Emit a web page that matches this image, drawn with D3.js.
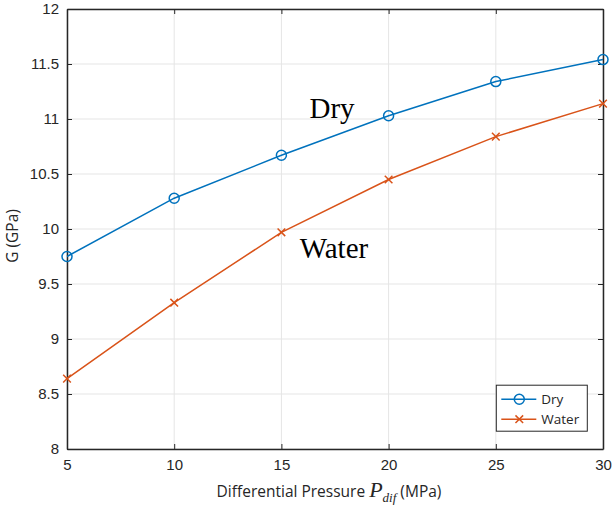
<!DOCTYPE html>
<html>
<head>
<meta charset="utf-8">
<script src="https://cdn.jsdelivr.net/npm/d3@7"></script>
<style>
  body { margin: 0; background: #fff; }
  svg { font-family: "Open Sans", "Noto Sans", sans-serif; }
</style>
</head>
<body>
<div id="chart"></div>
<script>
// G vs differential pressure, dry and water-saturated
var pressure = [5, 10, 15, 20, 25, 30],
	dryG = [9.75, 10.28, 10.67, 11.03, 11.34, 11.54],
	waterG = [8.64, 9.33, 9.97, 10.45, 10.84, 11.14],
	xTicks = [5, 10, 15, 20, 25, 30],
	yTicks = [8, 8.5, 9, 9.5, 10, 10.5, 11, 11.5, 12];

var width = 613, height = 506,
	margin = {top: 9, right: 10, bottom: 57, left: 67},
	w = width - margin.left - margin.right,
	h = height - margin.top - margin.bottom;

var svg = d3.select("#chart").append("svg")
	.attr("width", width)
	.attr("height", height);

var g = svg.append("g")
	.attr("transform", "translate(" + margin.left + "," + margin.top + ")");

var x = d3.scaleLinear().domain([5, 30]).range([0, w]),
	y = d3.scaleLinear().domain([8, 12]).range([h, 0]);

// grid
g.selectAll(".gx").data(xTicks).enter().append("line")
	.attr("x1", function(d) { return x(d); })
	.attr("x2", function(d) { return x(d); })
	.attr("y1", 0).attr("y2", h)
	.style("stroke", "#e5e5e5").style("stroke-width", 1);
g.selectAll(".gy").data(yTicks).enter().append("line")
	.attr("y1", function(d) { return y(d); })
	.attr("y2", function(d) { return y(d); })
	.attr("x1", 0).attr("x2", w)
	.style("stroke", "#e5e5e5").style("stroke-width", 1);

// axes, ticks pointing inward
g.append("g")
	.attr("transform", "translate(0," + h + ")")
	.call(d3.axisBottom(x).tickValues(xTicks).tickSizeInner(-5).tickSizeOuter(0).tickPadding(10));
g.append("g")
	.call(d3.axisLeft(y).tickValues(yTicks).tickSizeInner(-5).tickSizeOuter(0).tickPadding(8)
		.tickFormat(function(d) { return d3.format("~g")(d); }));
g.append("g")
	.call(d3.axisTop(x).tickValues(xTicks).tickSizeInner(-5).tickSizeOuter(0).tickFormat(""));
g.append("g")
	.attr("transform", "translate(" + w + ",0)")
	.call(d3.axisRight(y).tickValues(yTicks).tickSizeInner(-5).tickSizeOuter(0).tickFormat(""));

g.selectAll(".domain").style("stroke", "#262626").style("stroke-width", 1.5);
g.selectAll(".tick line").style("stroke", "#262626");
g.selectAll(".tick text").style("font-size", "15px").style("fill", "#262626");

// lines
var line = d3.line()
	.x(function(d, i) { return x(pressure[i]); })
	.y(function(d) { return y(d); });

g.append("path").datum(dryG)
	.attr("d", line)
	.style("fill", "none").style("stroke", "#0072BD").style("stroke-width", 1.5);
g.append("path").datum(waterG)
	.attr("d", line)
	.style("fill", "none").style("stroke", "#D95319").style("stroke-width", 1.5);

g.selectAll(".dry").data(dryG).enter().append("circle")
	.attr("cx", function(d, i) { return x(pressure[i]); })
	.attr("cy", function(d) { return y(d); })
	.attr("r", 5)
	.style("fill", "none").style("stroke", "#0072BD").style("stroke-width", 1.5);

var cross = d3.symbol().type(d3.symbolX).size(40);
g.selectAll(".water").data(waterG).enter().append("path")
	.attr("d", cross)
	.attr("transform", function(d, i) { return "translate(" + x(pressure[i]) + "," + y(d) + ")"; })
	.style("fill", "none").style("stroke", "#D95319").style("stroke-width", 1.5);

// annotations
g.append("text")
	.attr("x", x(17.36)).attr("y", y(11.01))
	.style("font-family", "'Liberation Serif', 'DejaVu Serif', serif")
	.style("font-size", "29px")
	.style("text-anchor", "middle")
	.text("Dry");
g.append("text")
	.attr("x", x(17.45)).attr("y", y(9.74))
	.style("font-family", "'Liberation Serif', 'DejaVu Serif', serif")
	.style("font-size", "29px")
	.style("text-anchor", "middle")
	.text("Water");

// axis titles
var xt = svg.append("text")
	.attr("x", margin.left + w / 2 - 6)
	.attr("y", 497)
	.style("text-anchor", "middle")
	.style("font-size", "15.5px")
	.style("fill", "#262626");
xt.append("tspan").text("Differential Pressure ");
xt.append("tspan")
	.style("font-family", "'Liberation Serif', serif")
	.style("font-style", "italic")
	.style("font-size", "22px")
	.text("P");
xt.append("tspan")
	.attr("dy", 5)
	.style("font-family", "'Liberation Serif', serif")
	.style("font-style", "italic")
	.style("font-size", "13px")
	.text("dif");
xt.append("tspan")
	.attr("dy", -5)
	.text(" (MPa)");

svg.append("text")
	.attr("transform", "translate(18," + (margin.top + h / 2 + 7) + ") rotate(-90)")
	.style("text-anchor", "middle")
	.style("font-size", "15.5px")
	.style("fill", "#262626")
	.text("G (GPa)");

// legend
var lg = g.append("g")
	.attr("transform", "translate(" + (x(25) + 0.5) + "," + (y(8.58)) + ")");
lg.append("rect")
	.attr("width", 91).attr("height", 46)
	.style("fill", "#fff").style("stroke", "#262626").style("stroke-width", 1);

var legendItems = [
	{name: "Dry", color: "#0072BD", marker: "circle"},
	{name: "Water", color: "#D95319", marker: "x"}
];
legendItems.forEach(function(it, i) {
	var yy = 14 + i * 20;
	lg.append("line")
		.attr("x1", 5).attr("x2", 40).attr("y1", yy).attr("y2", yy)
		.style("stroke", it.color).style("stroke-width", 1.5);
	if (it.marker === "circle") {
		lg.append("circle").attr("cx", 23).attr("cy", yy).attr("r", 5)
			.style("fill", "none").style("stroke", it.color).style("stroke-width", 1.5);
	} else {
		lg.append("path").attr("d", cross)
			.attr("transform", "translate(23," + yy + ")")
			.style("fill", "none").style("stroke", it.color).style("stroke-width", 1.5);
	}
	lg.append("text")
		.attr("x", 45).attr("y", yy + 5)
		.style("font-size", "13.5px").style("fill", "#262626")
		.text(it.name);
});
</script>
</body>
</html>
